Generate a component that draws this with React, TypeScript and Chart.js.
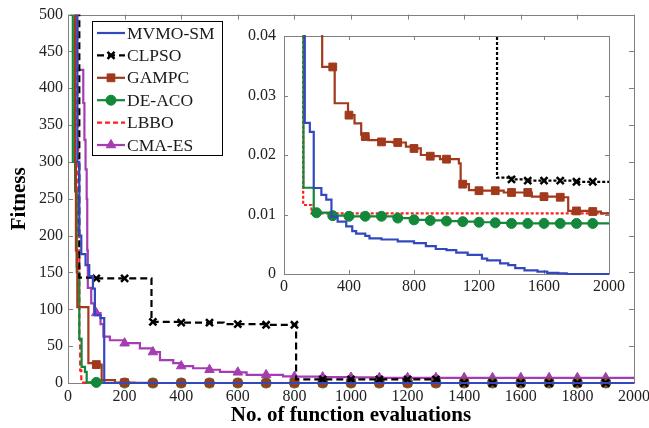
import React, { useEffect, useRef } from 'react';
import { Chart, registerables } from 'chart.js';
import { drawPoint } from 'chart.js/helpers';

Chart.register(...registerables);

// ---------- data ----------
const SERIES_NAMES = ['MVMO-SM', 'CLPSO', 'GAMPC', 'DE-ACO', 'LBBO', 'CMA-ES'];

const MVMO_X = [0, 33, 40, 47, 62, 75, 88, 95, 115, 128, 159, 183, 230, 260, 292, 330, 383, 420, 444, 500, 526, 600, 700, 800, 873, 934, 1000, 1060, 1130, 1218, 1250, 1330, 1380, 1423, 1480, 1560, 1620, 1688, 1740, 2000];
const MVMO_Y = [3000, 300, 200, 175, 160, 145, 128, 92, 88, 0.0254, 0.0239, 0.01445, 0.0133, 0.0125, 0.0096, 0.0088, 0.008, 0.0072, 0.0068, 0.0064, 0.006, 0.0058, 0.0055, 0.0052, 0.0047, 0.0042, 0.004, 0.0036, 0.0032, 0.0026, 0.0023, 0.0018, 0.0015, 0.001, 0.0006, 0.0004, 0.0002, 0.0001, 0, 0];

const CLPSO_X = [0, 40, 100, 200, 295, 300, 400, 500, 550, 600, 700, 800, 806, 900, 1000, 1100, 1200, 1300, 1311, 1400, 1500, 1600, 1700, 1800, 1900, 2000];
const CLPSO_Y = [3000, 143, 142, 142, 83, 83, 82, 82, 80, 80, 79, 79, 5, 5, 5, 5, 5, 5, 0.0162, 0.0159, 0.0157, 0.0157, 0.0157, 0.0155, 0.0155, 0.0155];

const GAMPC_X = [0, 25, 28, 31, 33, 72, 100, 119, 166, 200, 235, 300, 312, 394, 400, 434, 475, 500, 520, 600, 669, 700, 750, 800, 842, 900, 960, 1000, 1076, 1087, 1100, 1138, 1200, 1300, 1352, 1400, 1500, 1525, 1600, 1700, 1749, 1800, 1900, 1950, 2000];
const GAMPC_Y = [3000, 300, 180, 158, 103, 27, 25, 4, 0.5, 0.5, 0.0348, 0.0348, 0.0287, 0.0267, 0.0267, 0.0253, 0.0234, 0.0231, 0.0225, 0.0222, 0.0221, 0.0221, 0.0214, 0.0211, 0.02, 0.0198, 0.0193, 0.0193, 0.0186, 0.0152, 0.0151, 0.0141, 0.014, 0.014, 0.0137, 0.0137, 0.0137, 0.013, 0.013, 0.0129, 0.0106, 0.0106, 0.0105, 0.0102, 0.0102];

const DEACO_X = [0, 10, 17, 25, 31, 40, 48, 60, 66, 100, 120, 183, 200, 300, 400, 500, 600, 700, 800, 900, 1000, 1100, 1200, 1300, 1400, 1500, 1600, 1700, 1800, 1900, 2000];
const DEACO_Y = [3000, 500, 300, 260, 150, 60, 22, 15, 0.8, 0.8, 0.0145, 0.0103, 0.0103, 0.0098, 0.0097, 0.0097, 0.0097, 0.0094, 0.0091, 0.009, 0.0089, 0.0088, 0.0087, 0.0086, 0.0085, 0.0085, 0.0085, 0.0085, 0.0085, 0.0085, 0.0085];

const LBBO_X = [0, 30, 33, 36, 40, 43, 47, 118, 169, 2000];
const LBBO_Y = [3000, 500, 350, 200, 60, 17, 0.5, 0.0116, 0.0102, 0.01];

const CMAES_X = [0, 27, 54, 58, 62, 66, 68, 70, 82, 92, 100, 115, 125, 148, 200, 254, 300, 325, 372, 400, 442, 500, 537, 600, 631, 700, 760, 800, 900, 1000, 1100, 1200, 1300, 1400, 1500, 1600, 1700, 1800, 1900, 2000];
const CMAES_Y = [3000, 425, 380, 330, 290, 250, 180, 129, 108, 97, 95, 80, 63, 58, 54, 47, 42, 31, 27, 23, 20, 18, 15, 14.5, 11, 11, 9, 8.6, 8, 7.5, 7, 7, 7, 7, 7, 7, 7, 7, 7, 7];

const MAIN_X_TICKS = [0, 200, 400, 600, 800, 1000, 1200, 1400, 1600, 1800, 2000];
const MAIN_Y_TICKS = [0, 50, 100, 150, 200, 250, 300, 350, 400, 450, 500];
const INSET_X_TICKS = [0, 400, 800, 1200, 1600, 2000];
const INSET_Y_TICKS = [0, 0.01, 0.02, 0.03, 0.04];

const X_TITLE = 'No. of function evaluations';
const Y_TITLE = 'Fitness';

// ---------- styles ----------
const SERIF = '"Liberation Serif", "Times New Roman", serif';
const FRAME = '#808080';

type Style = {
  color: string;
  dashMain: number[];
  dashInset: number[];
  marker: string | false;
  radius: number;
  markerBorder: number;
};

const STYLES: Style[] = [
  { color: '#3448bd', dashMain: [], dashInset: [], marker: false, radius: 0, markerBorder: 0 },
  { color: '#000000', dashMain: [7, 4], dashInset: [3, 2], marker: 'crossRot', radius: 5, markerBorder: 2.5 },
  { color: '#a1391c', dashMain: [], dashInset: [], marker: 'rect', radius: 5.5, markerBorder: 1 },
  { color: '#13873a', dashMain: [], dashInset: [], marker: 'circle', radius: 5, markerBorder: 1 },
  { color: '#ff1f1f', dashMain: [5, 3], dashInset: [3, 2], marker: false, radius: 0, markerBorder: 0 },
  { color: '#a53cb2', dashMain: [], dashInset: [], marker: 'triangle', radius: 5.5, markerBorder: 1 },
];

const SERIES_X = [MVMO_X, CLPSO_X, GAMPC_X, DEACO_X, LBBO_X, CMAES_X];
const SERIES_Y = [MVMO_Y, CLPSO_Y, GAMPC_Y, DEACO_Y, LBBO_Y, CMAES_Y];

function makeDatasets(inset: boolean) {
  return SERIES_NAMES.map((name, i) => {
    const st = STYLES[i];
    const xs = SERIES_X[i];
    const ys = SERIES_Y[i];
    return {
      label: name,
      data: xs.map((x, j) => ({ x, y: ys[j] })),
      borderColor: st.color,
      backgroundColor: st.color,
      pointBackgroundColor: st.color,
      pointBorderColor: st.color,
      borderWidth: 2.2,
      borderDash: inset ? st.dashInset : st.dashMain,
      stepped: true,
      pointStyle: st.marker || 'circle',
      pointBorderWidth: st.markerBorder,
      pointRadius: (c: any) => {
        const raw = c.raw;
        if (!st.marker || !raw) return 0;
        return raw.x % 100 === 0 && raw.x > 0 && raw.x < 2000 ? st.radius : 0;
      },
      pointHoverRadius: 0,
      clip: inset ? { left: 1, top: 1, right: 1, bottom: 1 } : { left: 1, top: 0, right: 2, bottom: 8 },
      legendMarker: st.marker,
      legendRadius: st.radius,
      legendBorder: st.markerBorder,
    } as any;
  });
}

const framePlugin = (tickLen: number) => ({
  id: 'frame',
  beforeDatasetsDraw(chart: any) {
    const { ctx, chartArea: a, scales } = chart;
    ctx.save();
    ctx.strokeStyle = FRAME;
    ctx.lineWidth = 1;
    ctx.beginPath();
    ctx.rect(Math.round(a.left) + 0.5, Math.round(a.top) + 0.5, Math.round(a.right - a.left), Math.round(a.bottom - a.top));
    ctx.stroke();
    ctx.beginPath();
    scales.x.ticks.forEach((t: any) => {
      const px = Math.round(scales.x.getPixelForValue(t.value)) + 0.5;
      ctx.moveTo(px, a.top);
      ctx.lineTo(px, a.top + tickLen);
      ctx.moveTo(px, a.bottom);
      ctx.lineTo(px, a.bottom - tickLen);
    });
    scales.y.ticks.forEach((t: any) => {
      const py = Math.round(scales.y.getPixelForValue(t.value)) + 0.5;
      ctx.moveTo(a.left, py);
      ctx.lineTo(a.left + tickLen, py);
      ctx.moveTo(a.right, py);
      ctx.lineTo(a.right - tickLen, py);
    });
    ctx.stroke();
    ctx.restore();
  },
});

const legendPlugin = {
  id: 'boxLegend',
  afterDraw(chart: any) {
    const ctx = chart.ctx;
    const bx = 92, by = 21, bw = 130, bh = 134;
    ctx.save();
    ctx.fillStyle = '#ffffff';
    ctx.fillRect(bx, by, bw, bh);
    ctx.strokeStyle = '#000000';
    ctx.lineWidth = 1;
    ctx.strokeRect(bx + 0.5, by + 0.5, bw, bh);
    chart.data.datasets.forEach((ds: any, i: number) => {
      const y = 33 + i * 22.4;
      ctx.strokeStyle = ds.borderColor;
      ctx.lineWidth = 2.2;
      ctx.setLineDash(ds.borderDash || []);
      ctx.beginPath();
      ctx.moveTo(97, y);
      ctx.lineTo(125, y);
      ctx.stroke();
      ctx.setLineDash([]);
      if (ds.legendMarker) {
        ctx.fillStyle = ds.borderColor;
        ctx.strokeStyle = ds.borderColor;
        ctx.lineWidth = ds.legendBorder;
        drawPoint(ctx, { pointStyle: ds.legendMarker, rotation: 0, radius: ds.legendRadius, borderWidth: ds.legendBorder } as any, 111, y);
      }
      ctx.fillStyle = '#1a1a1a';
      ctx.font = `17.5px ${SERIF}`;
      ctx.textBaseline = 'middle';
      ctx.textAlign = 'left';
      ctx.fillText(ds.label, 127, y + 1);
    });
    ctx.restore();
  },
};

const tickFont = { family: SERIF, size: 16 };
const titleFont = { family: SERIF, size: 21, weight: 'bold' as const };

export default function App() {
  const mainRef = useRef<HTMLCanvasElement>(null);
  const insetRef = useRef<HTMLCanvasElement>(null);

  useEffect(() => {
    const main = new Chart(mainRef.current as HTMLCanvasElement, {
      type: 'line',
      data: { datasets: makeDatasets(false) },
      options: {
        animation: false,
        responsive: false,
        events: [],
        layout: { padding: { left: 0, top: 14, right: 46, bottom: 0 } },
        plugins: { legend: { display: false }, tooltip: { enabled: false } },
        scales: {
          x: {
            type: 'linear',
            min: 0,
            max: 2000,
            afterBuildTicks: (s: any) => { s.ticks = MAIN_X_TICKS.map((v) => ({ value: v })); },
            afterFit: (s: any) => { s.height = 45; },
            grid: { display: false, drawTicks: false },
            border: { display: false },
            ticks: { font: tickFont, color: '#222', padding: 4, maxRotation: 0, autoSkip: false, callback: (v: any) => String(v) },
            title: { display: true, text: X_TITLE, font: titleFont, color: '#000', padding: { top: 0, bottom: 0 } },
          },
          y: {
            type: 'linear',
            min: 0,
            max: 500,
            afterBuildTicks: (s: any) => { s.ticks = MAIN_Y_TICKS.map((v) => ({ value: v })); },
            afterFit: (s: any) => { s.width = 68; },
            grid: { display: false, drawTicks: false },
            border: { display: false },
            ticks: { font: tickFont, color: '#222', padding: 5, autoSkip: false, callback: (v: any) => String(v) },
            title: { display: true, text: Y_TITLE, font: titleFont, color: '#000', padding: { top: 7, bottom: 0 } },
          },
        },
      } as any,
      plugins: [framePlugin(5), legendPlugin],
    });

    const inset = new Chart(insetRef.current as HTMLCanvasElement, {
      type: 'line',
      data: { datasets: makeDatasets(true) },
      options: {
        animation: false,
        responsive: false,
        events: [],
        layout: { padding: { left: 0, top: 18, right: 17, bottom: 0 } },
        plugins: { legend: { display: false }, tooltip: { enabled: false } },
        scales: {
          x: {
            type: 'linear',
            min: 0,
            max: 2000,
            afterBuildTicks: (s: any) => { s.ticks = INSET_X_TICKS.map((v) => ({ value: v })); },
            afterFit: (s: any) => { s.height = 24; },
            grid: { display: false, drawTicks: false },
            border: { display: false },
            ticks: { font: tickFont, color: '#222', padding: 3, maxRotation: 0, autoSkip: false, callback: (v: any) => String(v) },
          },
          y: {
            type: 'linear',
            min: 0,
            max: 0.04,
            afterBuildTicks: (s: any) => { s.ticks = INSET_Y_TICKS.map((v) => ({ value: v })); },
            afterFit: (s: any) => { s.width = 52; },
            grid: { display: false, drawTicks: false },
            border: { display: false },
            ticks: { font: tickFont, color: '#222', padding: 8, autoSkip: false, callback: (v: any) => String(v) },
          },
        },
      } as any,
      plugins: [framePlugin(4)],
    });

    return () => {
      main.destroy();
      inset.destroy();
    };
  }, []);

  return (
    <div style={{ position: 'absolute', left: 0, top: 0, width: 649, height: 428, overflow: 'hidden', background: '#fff' }}>
      <canvas ref={mainRef} width={680} height={428} style={{ position: 'absolute', left: 0, top: 0, width: 680, height: 428 }} />
      <canvas ref={insetRef} width={396} height={280} style={{ position: 'absolute', left: 232, top: 18, width: 396, height: 280 }} />
    </div>
  );
}
